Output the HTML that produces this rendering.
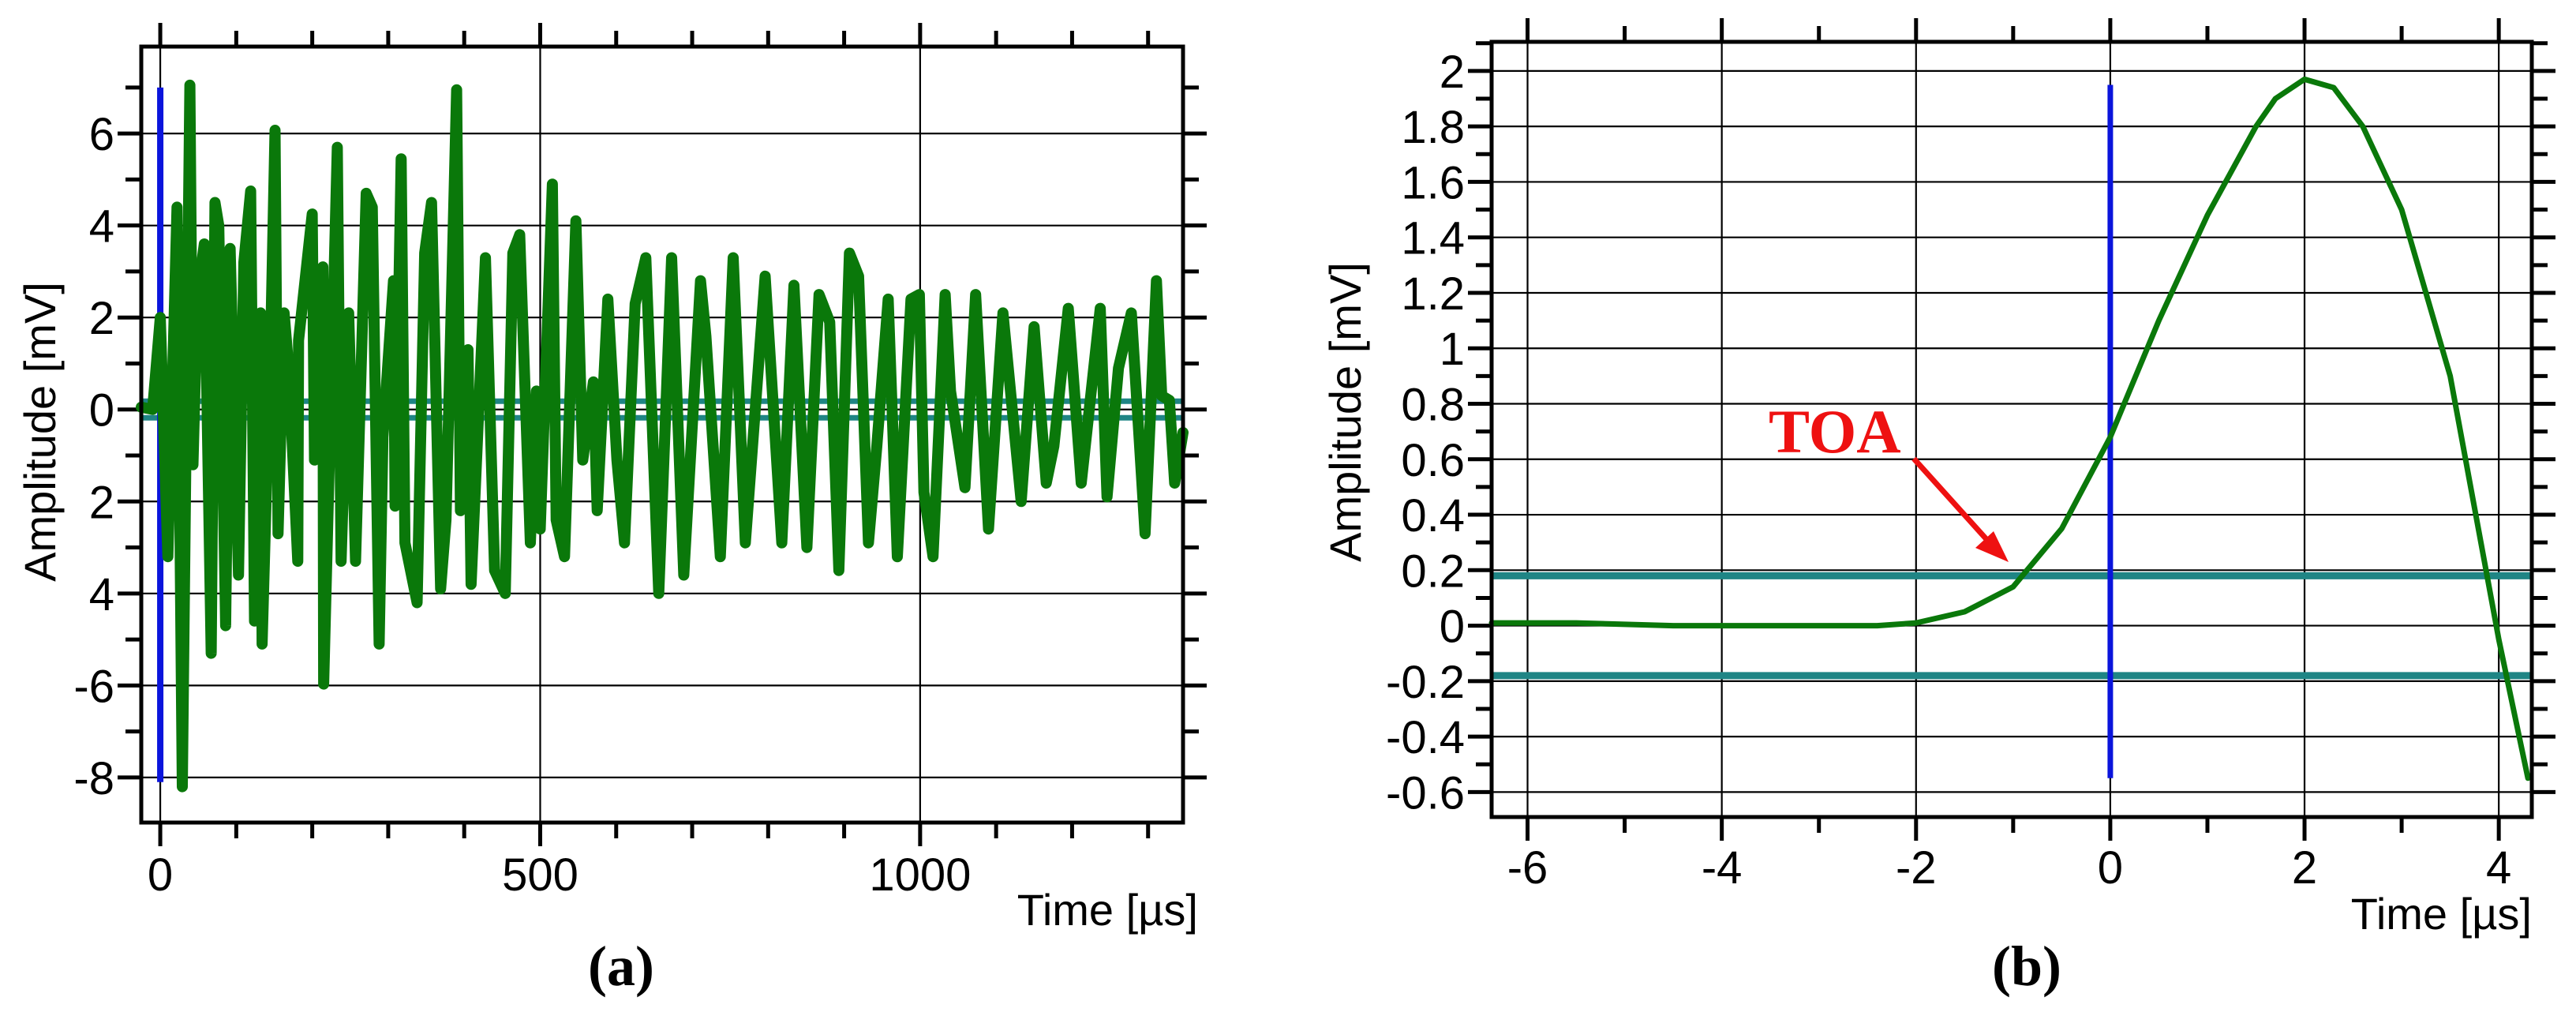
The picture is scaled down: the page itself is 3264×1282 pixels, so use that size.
<!DOCTYPE html>
<html><head><meta charset="utf-8"><style>
html,body{margin:0;padding:0;background:#fff;}
svg{display:block;font-family:"Liberation Sans",Arial,sans-serif;}
</style></head><body>
<svg id="fig" width="3264" height="1282" viewBox="0 0 3264 1282" xmlns="http://www.w3.org/2000/svg">
<g id="pa"></g>
<g id="pb"></g>
<text x="787" y="1248" text-anchor="middle" font-family="Liberation Serif,serif" font-weight="bold" font-size="72">(a)</text>
<text x="2568" y="1248" text-anchor="middle" font-family="Liberation Serif,serif" font-weight="bold" font-size="72">(b)</text>
</svg>
<script>
// Panel (a) data
const aTimes = [-25,-10,0,10,22,29,39,43,49,58,67,72,77,86,92,103,110,119,124,132,134,146,151,155,163,169,181,182,200,203,214,215,233,238,248,257,271,279,288,293,307,309,317,322,338,348,357,369,376,390,395,405,409,428,440,
454,464,473,487,495,500,516,521,532,547,556,570,575,589,601,611,625,639,656,673,689,711,718,737,754,770,796,818,834,851,867,881,893,
907,919,932,943,958,970,988,999,1005,1017,1033,1040,1059,1073,1090,1109,1133,1150,1166,1176,1195,1212,1237,1246,1261,1278,1296,1311,1318,1328,1335,1346];
const aValues = [0.05,0.0,2.0,-3.2,4.4,-8.2,7.05,-1.2,2.5,3.6,-5.3,4.5,4.0,-4.7,3.5,-3.6,3.2,4.75,-4.6,2.1,-5.1,2.0,6.07,-2.7,2.1,0.9,-3.3,1.5,4.25,-1.1,3.1,-5.97,5.7,-3.3,2.1,-3.3,4.7,4.4,-5.1,-0.6,2.8,-2.1,5.45,-2.9,-4.2,3.4,4.5,-3.9,-2.4,6.95,-2.2,1.3,-3.8,3.3,-3.5,
-4.0,3.4,3.8,-2.9,0.4,-2.6,4.9,-2.4,-3.2,4.1,-1.1,0.6,-2.2,2.4,-1.1,-2.9,2.3,3.3,-4.0,3.3,-3.6,2.8,1.6,-3.2,3.3,-2.9,2.9,-2.9,2.7,-3.0,2.5,1.9,-3.5,
3.4,2.9,-2.9,-0.8,2.4,-3.2,2.4,2.5,-1.8,-3.2,2.5,0.4,-1.7,2.5,-2.6,2.1,-2.0,1.8,-1.6,-0.8,2.2,-1.6,2.2,-1.9,0.9,2.1,-2.7,2.8,0.3,0.2,-1.6,-0.5];
const aYTicks = [6,4,2,0,-2,-4,-6,-8];
const aYTickLabels = ["6","4","2","0","2","4","-6","-8"];
const aXTicks = [0,500,1000];
const aThresh = [0.18,-0.18];
// Panel (b) data
const bTimes = [-6.37,-5.5,-4.5,-3.0,-2.4,-2.0,-1.5,-1.0,-0.5,0,0.5,1.0,1.5,1.7,2.0,2.3,2.6,3.0,3.5,4.0,4.3];
const bValues = [0.01,0.01,0.0,0.0,0.0,0.01,0.05,0.14,0.35,0.68,1.1,1.48,1.8,1.9,1.97,1.94,1.8,1.5,0.9,-0.05,-0.55];
const bYTicks = [2,1.8,1.6,1.4,1.2,1,0.8,0.6,0.4,0.2,0,-0.2,-0.4,-0.6];
const bXTicks = [-6,-4,-2,0,2,4];
const bThresh = [0.18,-0.18];

const NS="http://www.w3.org/2000/svg";
function mk(parent,tag,attrs,text){const e=document.createElementNS(NS,tag);for(const k in attrs)e.setAttribute(k,attrs[k]);if(text!==undefined)e.textContent=text;parent.appendChild(e);return e;}

function panel(g,cfg){
  const sx=v=>cfg.L+(v-cfg.x0)/(cfg.x1-cfg.x0)*(cfg.R-cfg.L);
  const sy=v=>cfg.T+(cfg.y1-v)/(cfg.y1-cfg.y0)*(cfg.B-cfg.T);
  for(let v=Math.ceil(cfg.y0/cfg.yMinor-1e-9)*cfg.yMinor; v<=cfg.y1+1e-9; v+=cfg.yMinor){
    const y=sy(v);const major=cfg.yTicks.some(t=>Math.abs(t-v)<1e-6);const len=major?30:20;
    let t1=mk(g,'line',{x1:cfg.L-len,x2:cfg.L,y1:y,y2:y,stroke:'#000','stroke-width':5});
    
    let t2=mk(g,'line',{x1:cfg.R,x2:cfg.R+len,y1:y,y2:y,stroke:'#000','stroke-width':5});
    
  }
  for(let v=Math.ceil(cfg.x0/cfg.xMinor-1e-9)*cfg.xMinor; v<=cfg.x1+1e-9; v+=cfg.xMinor){
    const x=sx(v);const major=cfg.xTicks.some(t=>Math.abs(t-v)<1e-6);const len=major?30:20;
    let t1=mk(g,'line',{x1:x,x2:x,y1:cfg.T-len,y2:cfg.T,stroke:'#000','stroke-width':5});
    
    let t2=mk(g,'line',{x1:x,x2:x,y1:cfg.B,y2:cfg.B+len,stroke:'#000','stroke-width':5});
    
  }
  cfg.yTicks.forEach(v=>{const y=sy(v);
    let l=mk(g,'line',{x1:cfg.L,x2:cfg.R,y1:y,y2:y,stroke:'#000','stroke-width':2.2});
    });
  cfg.xTicks.forEach(v=>{const x=sx(v);
    let l=mk(g,'line',{x1:x,x2:x,y1:cfg.T,y2:cfg.B,stroke:'#000','stroke-width':2.2});
    });
  cfg.yTicks.forEach((v,i)=>{
    let t=mk(g,'text',{x:cfg.L-34,y:sy(v)+21,'text-anchor':'end','font-size':cfg.fs},cfg.yLabels[i]);
    });
  cfg.xTicks.forEach(v=>{
    let t=mk(g,'text',{x:sx(v),y:cfg.xLabY,'text-anchor':'middle','font-size':cfg.fs},String(v));
    });
  cfg.thresh.forEach(v=>{
    let l=mk(g,'line',{x1:cfg.L,x2:cfg.R,y1:sy(v),y2:sy(v),stroke:'#1f8585','stroke-width':cfg.thW});
    });
  let bl=mk(g,'line',{x1:sx(0),x2:sx(0),y1:sy(cfg.blue[0]),y2:sy(cfg.blue[1]),stroke:'#0a14dc','stroke-width':cfg.blW});
  
  const pts=cfg.tx.map((t,i)=>sx(t).toFixed(1)+','+sy(cfg.vy[i]).toFixed(1)).join(' ');
  let p=mk(g,'polyline',{points:pts,fill:'none',stroke:'#0a780a','stroke-width':cfg.sw,'stroke-linejoin':'round','stroke-linecap':'round'});
  
  let f=mk(g,'rect',{x:cfg.L,y:cfg.T,width:cfg.R-cfg.L,height:cfg.B-cfg.T,fill:'none',stroke:'#000','stroke-width':5});
  
  let yt=mk(g,'text',{x:0,y:0,'text-anchor':'middle','font-size':cfg.fs-2,transform:`translate(${cfg.ytX},${cfg.ytY}) rotate(-90)`},'Amplitude [mV]');
  
  let xt=mk(g,'text',{x:cfg.xtX,y:cfg.xtY,'text-anchor':'end','font-size':cfg.fs-2},'Time [µs]');
  
  return {sx,sy};
}

panel(document.getElementById('pa'),{L:179,R:1499,T:59,B:1042,x0:-25,x1:1346,y0:-8.98,y1:7.89,
  xTicks:aXTicks,yTicks:aYTicks,yLabels:aYTickLabels,xMinor:100,yMinor:1,fs:58,xLabY:1128,
  thresh:aThresh,thW:7,blue:[7.0,-8.1],blW:8,tx:aTimes,vy:aValues,sw:14,
  ytX:70,ytY:547,xtX:1518,xtY:1172});

const b=panel(document.getElementById('pb'),{L:1890,R:3208,T:53,B:1035,x0:-6.37,x1:4.34,y0:-0.69,y1:2.105,
  xTicks:bXTicks,yTicks:bYTicks,yLabels:bYTicks.map(String),xMinor:1,yMinor:0.1,fs:58,xLabY:1119,
  thresh:bThresh,thW:9,blue:[1.95,-0.55],blW:7,tx:bTimes,vy:bValues,sw:7,
  ytX:1724,ytY:522,xtX:3208,xtY:1177});

const pb=document.getElementById('pb');
const toa=mk(pb,'text',{x:2241,y:573,'font-family':'Liberation Serif,serif','font-weight':'bold','font-size':78,fill:'#ee1111'},'TOA');


const ar=mk(pb,'line',{x1:2425,y1:581,x2:2525,y2:692,stroke:'#ee1111','stroke-width':7});


const ah=mk(pb,'polygon',{points:'2545,712 2503,694 2526,673',fill:'#ee1111'});


</script>
</body></html>
